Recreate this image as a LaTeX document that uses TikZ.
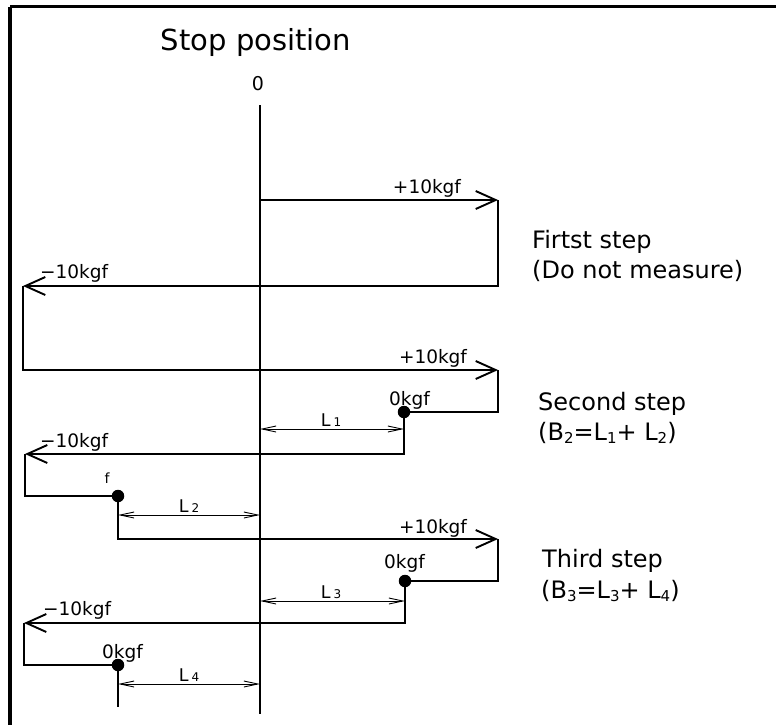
\documentclass[tikz,border=0pt]{standalone}
\usepackage{fontspec}
\setmainfont{DejaVu Sans}
\usetikzlibrary{arrows.meta}
\newcommand{\lowidx}[1]{\raisebox{-0.3ex}{\fontsize{15}{15}\selectfont #1}}
\newcommand{\dimidx}[1]{{\fontsize{12}{12}\selectfont #1}}
\begin{document}
\begin{tikzpicture}[x=1pt,y=-1pt,
  flow/.style={line width=1.9pt, line join=miter},
  flowarrow/.style={flow, -{Straight Barb[length=20pt,width=18pt,line width=1.9pt]}},
  dimline/.style={line width=0.9pt, {Straight Barb[length=14pt,width=6pt,line width=0.9pt]}-{Straight Barb[length=14pt,width=6pt,line width=0.9pt]}},
  dot/.style={circle, fill=black, inner sep=0pt, minimum size=12.5pt},
  lbl/.style={inner sep=0pt, font=\fontsize{18.5}{20}\selectfont},
  dimlbl/.style={inner sep=0pt, anchor=base, font=\fontsize{17.5}{19}\selectfont},
  steplbl/.style={inner sep=0pt, anchor=base west, font=\fontsize{24}{26}\selectfont},
  frame/.style={line width=3.2pt}
]
\useasboundingbox (0,0) rectangle (776,724);
\draw[frame] (10,6.5) -- (800,6.5) (10,6.5) -- (10,740);

% title and zero mark
\node[inner sep=0pt, anchor=base, font=\fontsize{29}{32}\selectfont] (title) at (256,50) {Stop position};
\node[inner sep=0pt, anchor=base, font=\fontsize{19}{21}\selectfont] (zero) at (258,90) {0};

% axis
\coordinate (axtop) at (260,105);
\coordinate (axbot) at (260,714);
\draw[line width=2pt] (axtop) -- (axbot);

% corner points
\coordinate (a0) at (260,200);
\coordinate (a1) at (498,200);
\coordinate (a2) at (498,286);
\coordinate (a3) at (23,286);
\coordinate (a4) at (23,370);
\coordinate (a5) at (498,370);
\coordinate (a6) at (498,412);
\node[dot] (d1) at (404,412) {};
\coordinate (b1) at (404,454);
\coordinate (b2) at (25,454);
\coordinate (b3) at (25,496);
\node[dot] (d2) at (118,496) {};
\coordinate (c1) at (118,539);
\coordinate (c2) at (498,539);
\coordinate (c3) at (498,581);
\node[dot] (d3) at (405,581) {};
\coordinate (e1) at (405,623);
\coordinate (e2) at (24,623);
\coordinate (e3) at (24,665);
\node[dot] (d4) at (118,665) {};
\coordinate (e4) at (118,707);

% force path
\draw[flowarrow] (a0) -- (a1);
\draw[flowarrow] (a1) -- (a2) -- (a3);
\draw[flowarrow] (a3) -- (a4) -- (a5);
\draw[flow] (a5) -- (a6) -- (d1.center);
\draw[flowarrow] (d1.center) -- (b1) -- (b2);
\draw[flow] (b2) -- (b3) -- (d2.center);
\draw[flowarrow] (d2.center) -- (c1) -- (c2);
\draw[flow] (c2) -- (c3) -- (d3.center);
\draw[flowarrow] (d3.center) -- (e1) -- (e2);
\draw[flow] (e2) -- (e3) -- (d4.center);
\draw[flow] (d4.center) -- (e4);

% dimension lines
\coordinate (l1a) at (260,429); \coordinate (l1b) at (404,429);
\coordinate (l2a) at (118,515); \coordinate (l2b) at (260,515);
\coordinate (l3a) at (260,601); \coordinate (l3b) at (405,601);
\coordinate (l4a) at (118,684); \coordinate (l4b) at (260,684);
\draw[dimline] (l1a) -- (l1b);
\draw[dimline] (l2a) -- (l2b);
\draw[dimline] (l3a) -- (l3b);
\draw[dimline] (l4a) -- (l4b);
\node[dimlbl] (L1) at (331,426) {L\,\dimidx{1}};
\node[dimlbl] (L2) at (189,512) {L\,\dimidx{2}};
\node[dimlbl] (L3) at (331,598) {L\,\dimidx{3}};
\node[dimlbl] (L4) at (189,681) {L\,\dimidx{4}};

% force labels
\node[lbl, anchor=base] (p1) at (427,193) {+10kgf};
\node[lbl, anchor=base west] (m1) at (40,278) {−10kgf};
\node[lbl, anchor=base] (p2) at (433,363) {+10kgf};
\node[lbl, anchor=base west] (z1) at (389,405) {0kgf};
\node[lbl, anchor=base west] (m2) at (40,447) {−10kgf};
\node[inner sep=0pt, anchor=base, font=\fontsize{14}{15}\selectfont] (f1) at (107,483) {f};
\node[lbl, anchor=base] (p3) at (433,533) {+10kgf};
\node[lbl, anchor=base west] (z2) at (384,568) {0kgf};
\node[lbl, anchor=base west] (m3) at (43,615) {−10kgf};
\node[lbl, anchor=base west] (z3) at (102,658) {0kgf};

% step descriptions
\node[steplbl] (s1a) at (532,248) {Firtst step};
\node[steplbl] (s1b) at (532,278) {(Do not measure)};
\node[steplbl] (s2a) at (538,410) {Second step};
\node[steplbl] (s2b) at (538,440) {(B\lowidx{2}=L\lowidx{1}+ L\lowidx{2})};
\node[steplbl] (s3a) at (542,567) {Third step};
\node[steplbl] (s3b) at (541,598) {(B\lowidx{3}=L\lowidx{3}+ L\lowidx{4})};
\end{tikzpicture}
\end{document}
